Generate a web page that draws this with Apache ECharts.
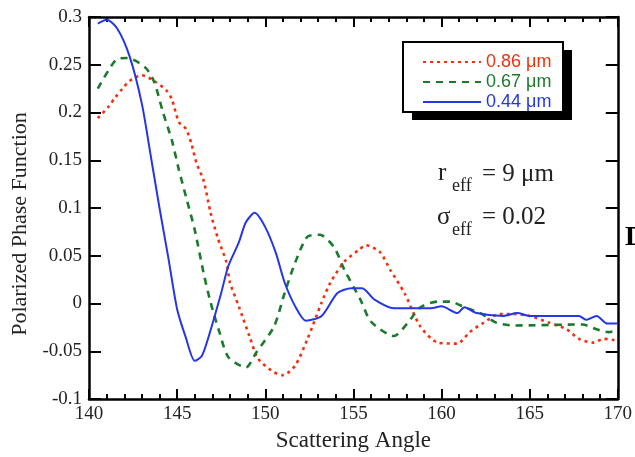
<!DOCTYPE html>
<html>
<head>
<meta charset="utf-8">
<script src="https://cdn.jsdelivr.net/npm/echarts@6/dist/echarts.min.js"></script>
<style>html,body{margin:0;padding:0;background:#fff}#c{width:635px;height:457px}</style>
</head>
<body>
<div id="c"></div>
<script>
// ---- data ----
const seriesNames = ['0.86 μm', '0.67 μm', '0.44 μm'];
const xTicks = [140, 145, 150, 155, 160, 165, 170];
const yTicks = [-0.1, -0.05, 0, 0.05, 0.1, 0.15, 0.2, 0.25, 0.3];

const redX = [140.5, 141.1, 141.5, 141.9, 142.3, 143.0, 143.7, 144.4, 144.7, 145.1, 145.5, 145.8, 146.1, 146.5, 146.9, 147.3, 147.8, 148.0, 148.5, 149.1, 149.6, 150.5, 151.0, 151.7, 152.4, 153.2, 153.7, 154.5, 155.3, 155.7, 156.5, 157.1, 157.9, 158.8, 159.8, 160.9, 161.6, 162.4, 163.3, 164.1, 165.0, 166.1, 167.1, 167.8, 168.6, 169.2, 169.7, 170.0];
const redY = [0.194, 0.206, 0.216, 0.225, 0.233, 0.239, 0.233, 0.223, 0.214, 0.190, 0.183, 0.168, 0.147, 0.129, 0.095, 0.069, 0.043, 0.022, -0.003, -0.034, -0.058, -0.072, -0.075, -0.065, -0.037, 0.001, 0.022, 0.044, 0.056, 0.061, 0.054, 0.035, 0.011, -0.024, -0.041, -0.042, -0.030, -0.020, -0.011, -0.011, -0.013, -0.020, -0.027, -0.037, -0.041, -0.037, -0.038, -0.039];

const greenX = [140.5, 141.1, 141.6, 142.2, 143.2, 143.7, 144.2, 144.7, 145.1, 145.5, 146.0, 146.5, 146.9, 147.4, 147.9, 148.9, 149.5, 150.5, 151.1, 151.7, 152.4, 153.1, 153.9, 154.5, 155.4, 156.0, 157.3, 158.1, 158.8, 159.8, 160.5, 161.3, 162.2, 163.1, 164.1, 168.0, 168.8, 169.5, 170.0];
const greenY = [0.225, 0.244, 0.256, 0.257, 0.247, 0.232, 0.200, 0.171, 0.140, 0.112, 0.077, 0.032, 0.001, -0.030, -0.056, -0.067, -0.051, -0.024, 0.011, 0.043, 0.070, 0.072, 0.059, 0.035, 0.004, -0.019, -0.034, -0.020, -0.004, 0.002, 0.002, -0.004, -0.010, -0.020, -0.023, -0.022, -0.027, -0.030, -0.028];

const blueX = [140.5, 141.0, 141.6, 142.3, 143.0, 143.5, 144.0, 144.5, 145.0, 145.5, 146.0, 146.4, 146.8, 147.5, 147.9, 148.5, 148.9, 149.4, 150.0, 150.6, 151.1, 151.7, 152.3, 153.2, 154.1, 154.9, 155.5, 156.2, 157.3, 159.4, 160.0, 160.9, 161.3, 162.0, 163.5, 164.3, 165.0, 167.8, 168.2, 168.8, 169.4, 170.0];
const blueY = [0.293, 0.297, 0.288, 0.259, 0.209, 0.155, 0.100, 0.048, -0.006, -0.036, -0.060, -0.055, -0.034, 0.011, 0.039, 0.064, 0.085, 0.095, 0.080, 0.053, 0.022, -0.003, -0.018, -0.013, 0.011, 0.016, 0.016, 0.004, -0.005, -0.005, -0.003, -0.010, -0.004, -0.010, -0.013, -0.010, -0.013, -0.013, -0.017, -0.013, -0.021, -0.021];

// ---- chart ----
const zip = (xs, ys) => xs.map((x, i) => [x, ys[i]]);
const colors = ['#f2300f', '#1c7a2c', '#2437e6'];
const serif = '"Liberation Serif", "DejaVu Serif", serif';
const sans = '"Liberation Sans", Arial, sans-serif';

const axisLineStyle = { color: '#000', width: 2.5 };
const baseX = {
  type: 'value', min: xTicks[0], max: xTicks[xTicks.length - 1], interval: 5,
  axisLine: { show: true, lineStyle: axisLineStyle, onZero: false },
  axisTick: { show: true, inside: true, length: 10, lineStyle: { color: '#000', width: 2 } },
  minorTick: { show: true, splitNumber: 5, length: 5, lineStyle: { color: '#000', width: 2 } },
  splitLine: { show: false }
};
const baseY = {
  type: 'value', min: yTicks[0], max: yTicks[yTicks.length - 1], interval: 0.05,
  axisLine: { show: true, lineStyle: axisLineStyle, onZero: false },
  axisTick: { show: true, inside: true, length: 12, lineStyle: { color: '#000', width: 2 } },
  splitLine: { show: false }
};

const chart = echarts.init(document.getElementById('c'), null, { renderer: 'canvas' });
chart.setOption({
  animation: false,
  backgroundColor: '#fff',
  grid: { left: 89, right: 13, top: 17, bottom: 57, containLabel: false },
  xAxis: [
    Object.assign({}, baseX, {
      position: 'bottom',
      axisLabel: { show: true, margin: 6, fontFamily: serif, fontSize: 19, color: '#222',
        formatter: v => String(v) },
      name: 'Scattering Angle', nameLocation: 'middle', nameGap: 30,
      nameTextStyle: { fontFamily: serif, fontSize: 23, color: '#222' }
    }),
    Object.assign({}, baseX, { position: 'top', axisLabel: { show: false } })
  ],
  yAxis: [
    Object.assign({}, baseY, {
      position: 'left',
      axisLabel: { show: true, margin: 7, fontFamily: serif, fontSize: 19, color: '#222',
        formatter: v => String(Math.round(v * 100) / 100) }
    }),
    Object.assign({}, baseY, { position: 'right', axisLabel: { show: false } })
  ],
  legend: {
    orient: 'vertical', left: 403, top: 42,
    padding: [10, 8, 10, 19],
    itemWidth: 58, itemHeight: 14, itemGap: 0,
    itemStyle: { opacity: 0 },
    textStyle: { fontFamily: sans, fontSize: 18, lineHeight: 20 },
    data: seriesNames.map((n, i) => ({ name: n, textStyle: { color: colors[i] } }))
  },
  series: [
    { name: seriesNames[0], type: 'line', data: zip(redX, redY), symbol: 'none', smooth: 0.25,
      lineStyle: { color: colors[0], width: 2.6, type: [3, 4] }, itemStyle: { color: colors[0] } },
    { name: seriesNames[1], type: 'line', data: zip(greenX, greenY), symbol: 'none', smooth: 0.25,
      lineStyle: { color: colors[1], width: 2.6, type: [7, 6] }, itemStyle: { color: colors[1] } },
    { name: seriesNames[2], type: 'line', data: zip(blueX, blueY), symbol: 'none', smooth: 0.25,
      lineStyle: { color: colors[2], width: 2, type: 'solid' }, itemStyle: { color: colors[2] } }
  ],
  graphic: [
    // legend frame with hard shadow
    { type: 'rect', z: 1, shape: { x: 412, y: 50, width: 160, height: 70 }, style: { fill: '#000' } },
    { type: 'rect', z: 2, shape: { x: 403, y: 42, width: 160, height: 70 }, style: { fill: '#fff', stroke: '#000', lineWidth: 2 } },
    // axis title
    { type: 'text', x: 20, y: 224, rotation: Math.PI / 2,
      style: { text: 'Polarized Phase Function', font: '22px ' + serif, fill: '#222',
        textAlign: 'center', textVerticalAlign: 'middle' } },
    // annotations
    { type: 'text', x: 438, y: 173, style: { text: 'r', font: '25px ' + serif, fill: '#222', textVerticalAlign: 'middle' } },
    { type: 'text', x: 452, y: 186, style: { text: 'eff', font: '18px ' + serif, fill: '#222', textVerticalAlign: 'middle' } },
    { type: 'text', x: 482, y: 174, style: { text: '= 9 μm', font: '25px ' + serif, fill: '#222', textVerticalAlign: 'middle' } },
    { type: 'text', x: 437, y: 217, style: { text: 'σ', font: '25px ' + serif, fill: '#222', textVerticalAlign: 'middle' } },
    { type: 'text', x: 452, y: 230, style: { text: 'eff', font: '18px ' + serif, fill: '#222', textVerticalAlign: 'middle' } },
    { type: 'text', x: 482, y: 217, style: { text: '= 0.02', font: '25px ' + serif, fill: '#222', textVerticalAlign: 'middle' } },
    // cropped glyph at right edge
    { type: 'text', x: 625, y: 238, style: { text: 'D', font: 'bold 28px ' + serif, fill: '#000', textVerticalAlign: 'middle' } }
  ]
});
</script>
</body>
</html>
